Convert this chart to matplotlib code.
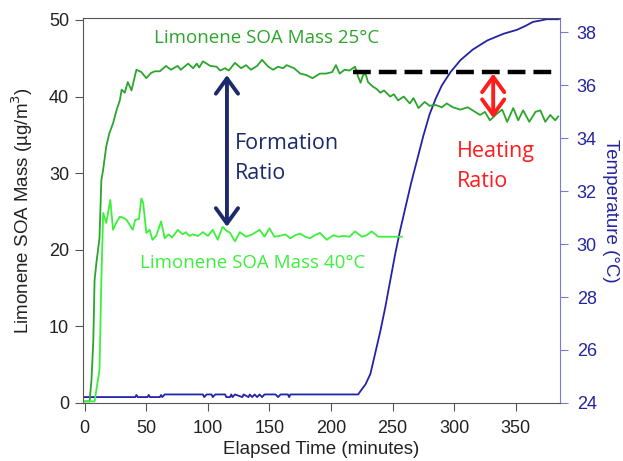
import matplotlib
matplotlib.use("Agg")
import matplotlib.pyplot as plt

# ---------------- data ----------------
t25 = [0, 4, 5.5, 7, 8, 9.5, 12, 13.5, 15, 17.5, 20, 23, 26, 28.5, 30, 32.5, 35, 38, 40.5, 42,
       46, 50, 54, 57, 61, 66, 70, 75.5, 78, 84, 88, 91, 93, 96, 102, 107, 110, 114, 117, 122,
       127, 131, 135, 140, 144, 149, 153, 157, 161, 164, 170, 175, 180, 185, 191, 196, 201, 204,
       207, 211, 215, 219.5, 222, 224, 226, 228, 230, 234, 237, 240, 243, 248, 251, 254.5, 259,
       264, 267, 271, 276, 280, 285, 290, 294, 299, 305, 311, 317, 321, 325, 329, 335, 339, 343,
       348, 352, 356, 361, 366, 370, 374, 378, 382, 384.5]
m25 = [0.2, 0.2, 3, 8.2, 16, 18.3, 21.5, 29, 30.5, 33.5, 35.2, 36.5, 38.3, 39.5, 40.9, 40.5, 41.9, 40.8, 42.5, 43.5,
       43.2, 42.4, 43.1, 43.3, 43.3, 44.0, 43.5, 44.0, 43.5, 44.3, 43.7, 44.3, 43.8, 44.6, 44.0, 43.9, 43.4, 43.7, 43.4, 44.4,
       43.7, 44.1, 43.5, 44.0, 44.8, 43.9, 43.5, 43.9, 43.7, 44.1, 43.7, 43.0, 42.8, 42.4, 43.0, 43.0, 43.2, 44.1,
       43.0, 43.5, 43.4, 43.9, 42.6, 41.8, 42.8, 43.0, 41.9, 41.3, 41.0, 40.5, 40.8, 40.0, 40.3, 39.5, 40.0,
       39.1, 39.8, 38.5, 39.3, 38.8, 38.9, 38.6, 39.1, 38.6, 38.3, 38.6, 38.0, 37.6, 38.0, 36.9, 37.8, 38.3, 36.7,
       38.5, 36.9, 38.2, 36.7, 38.0, 38.2, 36.7, 37.6, 36.9, 37.4]

t40 = [0, 8, 12, 13.5, 15, 17.5, 20.8, 23, 25.5, 28.5, 31, 34, 39, 41, 44, 46, 47.5, 50, 52.7, 55,
       58, 62, 65, 68, 71, 75.6, 79.6, 82, 85, 87.5, 92, 96, 100, 104, 108, 112, 115, 118, 122, 126,
       131, 136, 142, 146, 150, 154, 158, 163, 167, 171, 175, 179, 183, 187, 191, 196.5, 202, 206, 210,
       215, 219.5, 225, 229, 233, 238.5, 245, 250, 257.5]
m40 = [0.2, 0.2, 4.3, 16, 24.8, 23.5, 26.5, 22.6, 23.5, 24.3, 24.2, 23.9, 22.6, 23.9, 24.0, 26.7, 26.1, 22.2, 22.6, 21.3,
       21.8, 23.7, 21.5, 22.0, 21.6, 22.6, 22.0, 22.3, 21.8, 22.0, 21.8, 22.3, 21.8, 22.6, 21.3, 23.0, 22.5, 22.2, 21.1, 22.3,
       21.7, 22.0, 22.6, 21.7, 22.8, 21.7, 21.8, 22.0, 21.5, 21.9, 22.1, 21.7, 21.5, 21.9, 22.2, 21.3, 21.9, 21.7, 21.8,
       21.7, 22.4, 21.7, 21.9, 22.4, 21.7, 21.7, 21.7, 21.7]

t_temp = [0, 41, 42, 43, 51, 52, 53, 61, 62, 63, 65, 96, 97, 99, 103, 104, 106, 114, 115, 118, 119, 120, 122,
          128, 129, 133, 134, 136, 138, 140, 142, 144, 146, 155, 157, 159, 165, 166, 167, 222, 224, 228, 232,
          236, 240, 244, 248, 252, 256, 260, 265, 270, 275, 280, 285, 290, 297, 305, 315, 327, 340, 351, 358,
          364, 370, 375, 385]
temp = [24.22, 24.22, 24.3, 24.22, 24.22, 24.3, 24.22, 24.22, 24.3, 24.22, 24.32, 24.32, 24.22, 24.32, 24.32, 24.22,
        24.32, 24.32, 24.22, 24.22, 24.32, 24.22, 24.32, 24.22, 24.32, 24.22, 24.32, 24.22, 24.32, 24.22, 24.32, 24.22,
        24.32, 24.32, 24.22, 24.32, 24.32, 24.22, 24.32, 24.32, 24.45, 24.7, 25.1, 25.9, 26.7, 27.6, 28.6, 29.6, 30.5,
        31.3, 32.3, 33.2, 34.1, 34.9, 35.5, 36.0, 36.5, 36.95, 37.35, 37.7, 37.95, 38.1, 38.25, 38.4, 38.45, 38.5, 38.5]

ref_t = [218, 385]
ref_level = 43.2

x_ticks = [0, 50, 100, 150, 200, 250, 300, 350]
y_ticks = [0, 10, 20, 30, 40, 50]
temp_ticks = [24, 26, 28, 30, 32, 34, 36, 38]

# ---------------- style ----------------
plt.rcParams['font.family'] = ['Liberation Sans', 'DejaVu Sans']
ann_font = ['Open Sans', 'DejaVu Sans']

c25 = '#2ca52c'
c40 = '#3cf03c'
ctemp = '#2323a8'
navy = '#1b2a6b'
red = '#ff1c1c'

fig = plt.figure(figsize=(6.23, 4.61), dpi=100)
ax = fig.add_axes([0.133, 0.126, 0.766, 0.834])
ax2 = ax.twinx()

ax.plot(t25, m25, color=c25, lw=1.3, zorder=3)
ax.plot(t40, m40, color=c40, lw=1.3, zorder=3)
ax2.plot(t_temp, temp, color=ctemp, lw=1.3)
ax.plot(ref_t, [ref_level, ref_level], color='black', lw=3.2, dashes=(4, 1.8), zorder=4)

ax.set_zorder(ax2.get_zorder() + 1)
ax.patch.set_visible(False)

ax.set_xlim(-1.5, 386)
ax.set_ylim(0, 50.2)
ax2.set_ylim(24, 38.53)
ax.set_xticks(x_ticks)
ax.set_yticks(y_ticks)
ax2.set_yticks(temp_ticks)

gray = '#555555'
for s in ['left', 'bottom', 'top']:
    ax.spines[s].set_color(gray)
ax.spines['right'].set_visible(False)
for s in ['left', 'bottom', 'top']:
    ax2.spines[s].set_visible(False)
ax2.spines['right'].set_color('#7a7ad6')

ax.tick_params(axis='both', direction='out', length=6, color=gray, labelsize=13, labelcolor='#222222', pad=4)
ax.tick_params(axis='x', pad=6)
ax2.tick_params(axis='y', direction='out', length=6, color='#7a7ad6', labelsize=13, labelcolor='#2424a0', pad=6)

ax.set_xlabel('Elapsed Time (minutes)', fontsize=13.5, color='#222222', labelpad=3)
ax.set_ylabel('Limonene SOA Mass (µg/m$^3$)', fontsize=13.5, color='#222222', labelpad=10)
ax2.set_ylabel('Temperature (°C)', fontsize=13.5, color='#2424a0', rotation=270, labelpad=16)

# annotations
ax.text(56, 47.6, 'Limonene SOA Mass 25°C', color=c25, fontsize=13.5, family=ann_font, va='center', ha='left')
ax.text(44.7, 18.3, 'Limonene SOA Mass 40°C', color=c40, fontsize=13.5, family=ann_font, va='center', ha='left')
ax.text(122, 33.9, 'Formation', color=navy, fontsize=15.5, family=ann_font, va='center', ha='left')
ax.text(122, 30.0, 'Ratio', color=navy, fontsize=15.5, family=ann_font, va='center', ha='left')
ax.text(302.4, 32.8, 'Heating', color=red, fontsize=15.5, family=ann_font, va='center', ha='left')
ax.text(302.4, 28.9, 'Ratio', color=red, fontsize=15.5, family=ann_font, va='center', ha='left')

ax.annotate('', xy=(115.5, 42.8), xytext=(115.5, 23.0),
            arrowprops=dict(arrowstyle='<->,head_length=0.55,head_width=0.4', color=navy, lw=2.8,
                            shrinkA=0, shrinkB=0, mutation_scale=20), zorder=5)
ax.annotate('', xy=(331.7, 43.0), xytext=(331.7, 37.2),
            arrowprops=dict(arrowstyle='<->,head_length=0.55,head_width=0.4', color=red, lw=2.8,
                            shrinkA=0, shrinkB=0, mutation_scale=20), zorder=5)

fig.savefig('out.png', dpi=100)
